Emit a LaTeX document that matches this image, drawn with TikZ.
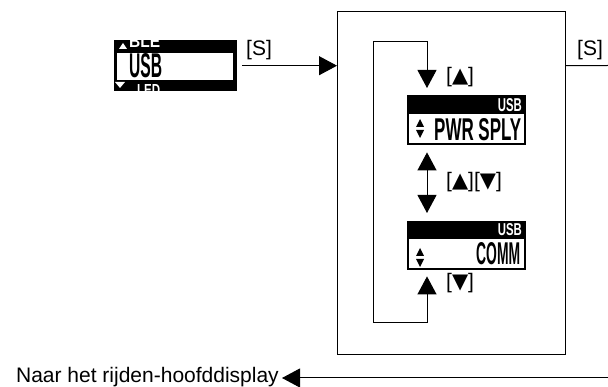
\documentclass[tikz,border=0pt]{standalone}
\usepackage{fontspec}
\setmainfont{Liberation Sans}
\newfontfamily\dvfont{DejaVu Sans}
\newcommand\tup{{\dvfont ▲}}
\newcommand\tdn{{\dvfont ▼}}
\usetikzlibrary{arrows.meta}
\begin{document}
\begin{tikzpicture}[x=1pt,y=-1pt,
  arr/.style={line width=1pt,-{Triangle[length=18pt,width=19pt]}},
  darr/.style={line width=1pt,{Triangle[length=18pt,width=19pt]}-{Triangle[length=18pt,width=19pt]}},
  lbl/.style={inner sep=0pt,anchor=base west,font=\fontsize{21}{25}\selectfont},
  lcd/.style={fill=black,inner sep=0pt,anchor=north west},
  lcdtxt/.style={inner sep=0pt,font=\bfseries}]
\useasboundingbox (0,0) rectangle (608,387);

% main frame
\node[draw,line width=1.2pt,inner sep=0pt,anchor=north west,minimum width=228pt,minimum height=343pt] (box) at (337,11) {};

% left display
\node[lcd,minimum width=123pt,minimum height=51pt] (d0) at (114,40) {};
\fill[white] (117,53) rectangle (233,80);
\node[lcdtxt,anchor=base west] (d0t) at (129,78) {\resizebox{33pt}{24pt}{USB}};
\begin{scope}
  \clip (114,40) rectangle (237,53);
  \fill[white] (119,49) -- (127,49) -- (123,43) -- cycle;
  \node[lcdtxt,text=white,anchor=base west] (d0a) at (129,48) {\resizebox{31pt}{12pt}{BLE}};
\end{scope}
\begin{scope}
  \clip (114,80) rectangle (237,91);
  \fill[white] (115,82) -- (125,82) -- (120,88) -- cycle;
  \node[lcdtxt,text=white,anchor=base west] (d0b) at (137,95.5) {\resizebox{23pt}{11pt}{LED}};
\end{scope}

% display 1
\node[lcd,minimum width=119pt,minimum height=50pt] (d1) at (407,95) {};
\fill[white] (409,114) rectangle (524,143);
\node[lcdtxt,text=white,anchor=base east] (d1u) at (522,112) {\resizebox{24pt}{13pt}{USB}};
\fill (416,127) -- (424,127) -- (420,119) -- cycle;
\fill (416,130) -- (424,130) -- (420,138) -- cycle;
\node[lcdtxt,anchor=base west] (d1t) at (434,141) {\resizebox{87pt}{22pt}{PWR SPLY}};

% display 2
\node[lcd,minimum width=119pt,minimum height=49pt] (d2) at (407,221) {};
\fill[white] (409,239) rectangle (524,268);
\node[lcdtxt,text=white,anchor=base east] (d2u) at (522,236) {\resizebox{24pt}{12pt}{USB}};
\fill (416,256) -- (424,256) -- (420,248) -- cycle;
\fill (416,259) -- (424,259) -- (420,267) -- cycle;
\node[lcdtxt,anchor=base west] (d2t) at (476,265) {\resizebox{44pt}{22pt}{COMM}};

% labels
\node[lbl] (sl) at (246,56) {[S]};
\node[lbl] (sr) at (577,56) {[S]};
\node[lbl] (lup) at (446,83) {[\tup]};
\node[lbl] (lud) at (446,188) {[\tup][\tdn]};
\node[lbl] (ldn) at (446,289) {[\tdn]};
\node[lbl,anchor=base east] (back) at (279,383) {Naar het rijden-hoofddisplay};

% connectors
\coordinate (lt) at (427,42);
\coordinate (lb) at (427,323);
\coordinate (ll) at (373,182);
\coordinate (rR) at (608,65.5);
\coordinate (bR) at (608,378);

\draw[arr,shorten <=5pt] (d0.east) -- (d0.east -| box.west);
\draw[line width=1pt] (d0.east -| box.east) -- (rR);
\draw[arr,shorten >=7pt] (ll) |- (lt) -- (d1.north -| lt);
\draw[arr,shorten >=6pt] (ll) |- (lb) -- (d2.south -| lb);
\draw[darr,shorten <=7pt,shorten >=8pt] (d1.south -| lt) -- (d2.north -| lt);
\draw[arr,shorten >=3pt] (bR) -- (bR -| back.east);
\end{tikzpicture}
\end{document}
